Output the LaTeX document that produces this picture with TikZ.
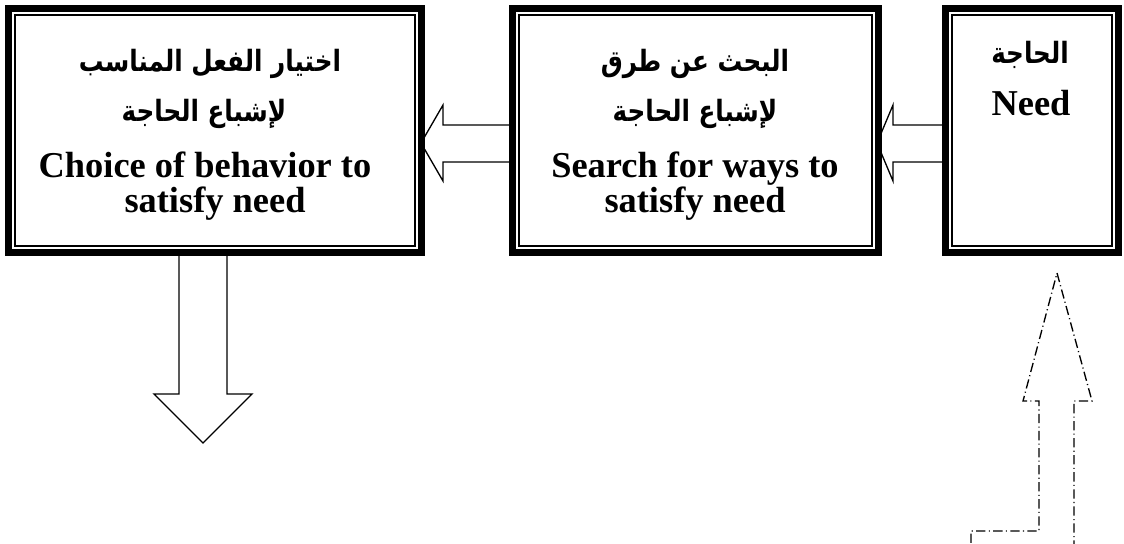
\documentclass[tikz,border=0pt]{standalone}
\usepackage{fontspec}
\setmainfont{Liberation Serif}
\newfontfamily\arabicfont[Script=Arabic, FakeStretch=0.84]{DejaVu Sans}
\TeXXeTstate=1
\usetikzlibrary{calc}

\begin{document}
\begin{tikzpicture}[x=0.75pt,y=-0.75pt]
\tikzset{
  boxarea/.style={rectangle, inner sep=0pt, outer sep=0pt},
  en/.style={font=\bfseries\fontsize{27.3}{32}\selectfont, anchor=base, inner sep=0pt},
  ar/.style={font=\arabicfont\bfseries\fontsize{22}{26}\selectfont, anchor=base, inner sep=0pt},
  blockarrow/.style={draw=black, fill=white, line width=1pt, line join=miter},
  dasharrow/.style={draw=black, line width=1pt, line join=miter,
    dash pattern=on 7pt off 2.5pt on 0.8pt off 2.5pt},
  thickrule/.style={line width=5.6pt},
  thinrule/.style={line width=1.2pt}
}
\useasboundingbox (0,0) rectangle (1124,543);

% the three stages
\node[boxarea, minimum width=315pt, minimum height=188.25pt] (b1) at (215,130.5) {};
\node[boxarea, minimum width=279.75pt, minimum height=188.25pt] (b2) at (695.5,130.5) {};
\node[boxarea, minimum width=135pt, minimum height=188.25pt] (b3) at (1032,130.5) {};

% block arrows between the stages
\draw[blockarrow] ([shift={(-4,12.5)}]b1.east) -- ++(22,-38) -- ++(0,20) -- ++(72,0)
  -- ++(0,37) -- ++(-72,0) -- ++(0,19) -- cycle;
\draw[blockarrow] ([shift={(-5,12.5)}]b2.east) -- ++(16,-38) -- ++(0,20) -- ++(54,0)
  -- ++(0,37) -- ++(-54,0) -- ++(0,19) -- cycle;
\draw[blockarrow] ([shift={(-36,-6)}]b1.south) -- ++(0,144) -- ++(-25,0) -- ++(49,49)
  -- ++(49,-49) -- ++(-25,0) -- ++(0,-144) -- cycle;

% feedback arrow rising towards the need
\coordinate (fbA) at (971,560);
\coordinate (fbB) at (1074,560);
\begin{scope}
  \clip (0,0) rectangle (1124,543);
  \draw[dasharrow] (fbA) -- (971,531) -- (1039,531) -- (1039,401) -- (1023,401)
    -- ([shift={(25,17)}]b3.south) -- (1092,401) -- (1074,401) -- (fbB);
\end{scope}

% thick-thin borders
\foreach \b in {b1,b2,b3} {
  \draw[thickrule] ([shift={(3.75,3.75)}]\b.north west) rectangle ([shift={(-3.75,-3.75)}]\b.south east);
  \draw[thinrule] ([shift={(10,10)}]\b.north west) rectangle ([shift={(-10,-10)}]\b.south east);
}

% labels
\node[ar] (t1a) at (210,71) {\beginR اختيار الفعل المناسب\endR};
\node[ar] (t1b) at (204,121) {\beginR لإشباع الحاجة\endR};
\node[en] (t1c) at (205,177) {Choice of behavior to};
\node[en] (t1d) at (215,212) {satisfy need};

\node[ar] (t2a) at (695,71) {\beginR البحث عن طرق\endR};
\node[ar] (t2b) at (695,121) {\beginR لإشباع الحاجة\endR};
\node[en] (t2c) at (695,177) {Search for ways to};
\node[en] (t2d) at (695,212) {satisfy need};

\node[ar] (t3a) at (1030,63) {\beginR الحاجة\endR};
\node[en] (t3b) at (1031,115) {Need};
\end{tikzpicture}
\end{document}
